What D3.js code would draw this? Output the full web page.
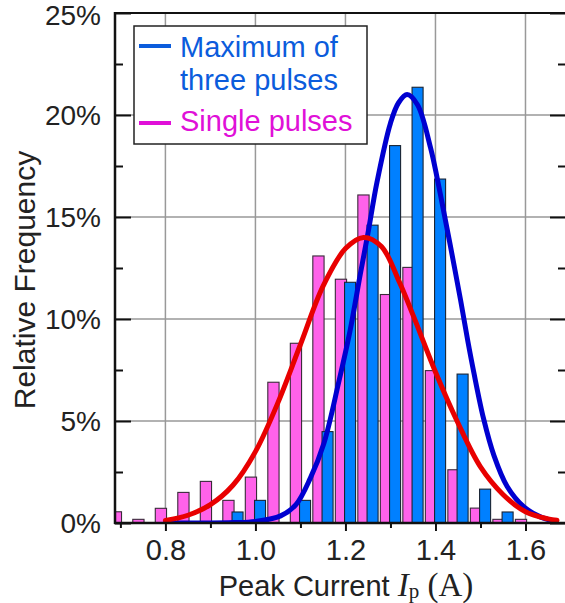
<!DOCTYPE html>
<html>
<head>
<meta charset="utf-8">
<script src="https://cdn.jsdelivr.net/npm/d3@7/dist/d3.min.js"></script>
<style>
  html, body { margin: 0; padding: 0; background: #fff; }
  svg { display: block; }
  text { font-family: "Liberation Sans", Arial, sans-serif; }
</style>
</head>
<body>
<svg id="chart" width="565" height="603"></svg>
<script>
// Histogram bin centres (peak current, A)
const binCenters = [0.70, 0.75, 0.80, 0.85, 0.90, 0.95, 1.00, 1.05, 1.10, 1.15,
                    1.20, 1.25, 1.30, 1.35, 1.40, 1.45, 1.50, 1.55, 1.60];
// Relative frequency (%) of single pulses per bin
const singleFreq = [0.55, 0.18, 0.72, 1.5, 2.04, 1.11, 2.25, 6.9, 8.81, 13.09,
                    11.95, 16.08, 11.2, 12.53, 7.47, 2.61, 0.73, 0.18, 0.18];
// Relative frequency (%) of the maximum of three pulses per bin
const maxFreq = [0, 0, 0, 0, 0, 0.54, 1.11, 0, 1.11, 4.48,
                 11.8, 14.6, 18.5, 21.36, 16.86, 7.3, 1.66, 0.54, 0];

// Fitted distribution curves, sampled as [current, %]
const singleFitX = [0.80, 0.85, 0.90, 0.95, 1.00, 1.05, 1.10, 1.15, 1.20, 1.24,
                    1.28, 1.32, 1.35, 1.40, 1.45, 1.50, 1.55, 1.60, 1.65, 1.67];
const singleFitY = [0.12, 0.38, 0.9, 1.85, 3.5, 5.9, 8.75, 11.6, 13.45, 14.0,
                    13.55, 11.8, 10.2, 7.4, 4.9, 2.75, 1.4, 0.55, 0.2, 0.13];
const maxFitX = [0.80, 0.90, 0.95, 1.00, 1.056, 1.09, 1.122, 1.152, 1.185, 1.21, 1.233, 1.25,
                 1.27, 1.30, 1.318, 1.337, 1.36, 1.389, 1.411, 1.433, 1.456, 1.472, 1.485,
                 1.507, 1.53, 1.559, 1.596, 1.633, 1.665];
const maxFitY = [0.0, 0.0, 0.02, 0.08, 0.35, 0.9, 2.2, 3.9, 6.9, 9.4, 12.2, 14.2,
                 16.7, 19.6, 20.6, 21.0, 20.5, 18.4, 16.1, 13.6, 10.9, 8.9, 7.4,
                 5.1, 3.3, 1.8, 0.8, 0.3, 0.1];

// Axis ticks
const xMajorTicks = [0.8, 1.0, 1.2, 1.4, 1.6];
const xTickLabels = ["0.8", "1.0", "1.2", "1.4", "1.6"];
const xMinorTicks = [0.7, 0.9, 1.1, 1.3, 1.5];
const yMajorTicks = [0, 5, 10, 15, 20, 25];
const yTickLabels = ["0%", "5%", "10%", "15%", "20%", "25%"];
const yMinorTicks = [2.5, 7.5, 12.5, 17.5, 22.5];
const yGridTicks = [5, 10, 15, 20];

const legendItems = ["Maximum of\nthree pulses", "Single pulses"];

const svg = d3.select("#chart");
const plotLeft = 115, plotRight = 566, plotTop = 13, plotBottom = 523;

const x = d3.scaleLinear().domain([0.688, 1.690]).range([plotLeft, plotRight]);
const y = d3.scaleLinear().domain([0, 25]).range([plotBottom, plotTop]);

svg.append("defs").append("clipPath").attr("id", "plotClip")
  .append("rect").attr("x", plotLeft).attr("y", plotTop)
  .attr("width", plotRight - plotLeft).attr("height", plotBottom - plotTop);

// Grid
const grid = svg.append("g").attr("stroke", "#999").attr("stroke-width", 1.5);
grid.selectAll("line.vx").data(xMajorTicks).join("line")
  .attr("x1", d => x(d)).attr("x2", d => x(d)).attr("y1", plotTop).attr("y2", plotBottom);
grid.selectAll("line.hy").data(yGridTicks).join("line")
  .attr("x1", plotLeft).attr("x2", plotRight).attr("y1", d => y(d)).attr("y2", d => y(d));

// Bars
const bars = svg.append("g").attr("clip-path", "url(#plotClip)");
const binData = binCenters.map((c, i) => ({ c, s: singleFreq[i], m: maxFreq[i] }));
bars.selectAll("rect.single").data(binData.filter(d => d.s > 0)).join("rect")
  .attr("class", "single")
  .attr("x", d => x(d.c - 0.0225)).attr("width", d => x(d.c + 0.0025) - x(d.c - 0.0225))
  .attr("y", d => y(d.s)).attr("height", d => y(0) - y(d.s))
  .attr("fill", "#ff62ea").attr("stroke", "#3a2a3a").attr("stroke-width", 1.1);
bars.selectAll("rect.max").data(binData.filter(d => d.m > 0)).join("rect")
  .attr("class", "max")
  .attr("x", d => x(d.c - 0.002)).attr("width", d => x(d.c + 0.0225) - x(d.c - 0.002))
  .attr("y", d => y(d.m)).attr("height", d => y(0) - y(d.m))
  .attr("fill", "#0080ff").attr("stroke", "#1a2433").attr("stroke-width", 1.1);

// Fitted curves
const line = d3.line().x(d => x(d[0])).y(d => y(d[1])).curve(d3.curveCatmullRom.alpha(0.5));
const curves = svg.append("g").attr("clip-path", "url(#plotClip)").attr("fill", "none");
curves.append("path").datum(maxFitX.map((v, i) => [v, maxFitY[i]]))
  .attr("d", line).attr("stroke", "#0000d0").attr("stroke-width", 5).attr("stroke-linecap", "round");
curves.append("path").datum(singleFitX.map((v, i) => [v, singleFitY[i]]))
  .attr("d", line).attr("stroke", "#e80000").attr("stroke-width", 5).attr("stroke-linecap", "round");

// Frame
const frame = svg.append("g").attr("stroke", "#111").attr("fill", "none");
frame.append("line").attr("x1", plotLeft).attr("x2", plotRight).attr("y1", plotTop).attr("y2", plotTop).attr("stroke-width", 2);
frame.append("line").attr("x1", plotLeft).attr("x2", plotLeft).attr("y1", plotTop - 1).attr("y2", plotBottom + 1).attr("stroke-width", 2.5);
frame.append("line").attr("x1", plotRight).attr("x2", plotRight).attr("y1", plotTop).attr("y2", plotBottom).attr("stroke-width", 2);

// Y axes (ticks point inward on both sides)
svg.append("g").attr("transform", `translate(${plotLeft},0)`)
  .call(d3.axisRight(y).tickValues(yMajorTicks).tickSize(16).tickFormat(""));
svg.append("g").attr("transform", `translate(${plotLeft},0)`)
  .call(d3.axisRight(y).tickValues(yMinorTicks).tickSize(8).tickFormat(""));
svg.append("g").attr("transform", `translate(${plotRight},0)`)
  .call(d3.axisLeft(y).tickValues(yMajorTicks).tickSize(16).tickFormat(""));
svg.append("g").attr("transform", `translate(${plotRight},0)`)
  .call(d3.axisLeft(y).tickValues(yMinorTicks).tickSize(8).tickFormat(""));
svg.selectAll(".domain").remove();
svg.selectAll(".tick line").attr("stroke", "#111").attr("stroke-width", 2);

svg.append("g").selectAll("text").data(yMajorTicks).join("text")
  .attr("x", 101).attr("y", d => y(d)).attr("dy", d => d === 25 ? "0.42em" : "0.36em")
  .attr("text-anchor", "end").attr("font-size", 28).attr("fill", "#222")
  .text((d, i) => yTickLabels[i]);

// X axis (ticks point outward)
const xAxisMajor = svg.append("g").attr("transform", `translate(0,${plotBottom})`)
  .call(d3.axisBottom(x).tickValues(xMajorTicks).tickSize(8).tickPadding(8)
        .tickFormat((d, i) => xTickLabels[i]));
const xAxisMinor = svg.append("g").attr("transform", `translate(0,${plotBottom})`)
  .call(d3.axisBottom(x).tickValues(xMinorTicks).tickSize(5).tickFormat(""));
[xAxisMajor, xAxisMinor].forEach(g => {
  g.select(".domain").remove();
  g.selectAll(".tick line").attr("stroke", "#111").attr("stroke-width", 2);
});
xAxisMajor.selectAll(".tick text").attr("font-size", 29).attr("fill", "#222")
  .attr("font-family", "Liberation Sans, Arial, sans-serif");
svg.append("line").attr("x1", plotLeft - 1).attr("x2", plotRight).attr("y1", plotBottom).attr("y2", plotBottom)
  .attr("stroke", "#111").attr("stroke-width", 2.5);

// Axis titles
svg.append("text")
  .attr("transform", `translate(35,280) rotate(-90)`)
  .attr("text-anchor", "middle").attr("font-size", 30).attr("fill", "#222")
  .text("Relative Frequency");

const serif = "Liberation Serif, Times New Roman, serif";
const xTitle = svg.append("text").attr("x", 346).attr("y", 596)
  .attr("text-anchor", "middle").attr("font-size", 29).attr("fill", "#222");
xTitle.append("tspan").text("Peak Current ");
xTitle.append("tspan").attr("font-family", serif)
  .attr("font-style", "italic").attr("font-size", 33).text("I");
xTitle.append("tspan").attr("font-family", serif)
  .attr("font-size", 21).attr("dy", 2).text("p");
xTitle.append("tspan").attr("font-family", serif)
  .attr("font-size", 33).attr("dy", -2).text(" (A)");

// Legend
const legend = svg.append("g");
legend.append("rect").attr("x", 134).attr("y", 26).attr("width", 233).attr("height", 118)
  .attr("fill", "#fff").attr("stroke", "#222").attr("stroke-width", 1.5);
const legendColors = ["#0b5cdc", "#e010d8"];
const legendLineY = [46, 123];
const legendTextY = [[57, 90], [131]];
legendItems.forEach((label, i) => {
  legend.append("line").attr("x1", 139).attr("x2", 171)
    .attr("y1", legendLineY[i]).attr("y2", legendLineY[i])
    .attr("stroke", legendColors[i]).attr("stroke-width", 4);
  label.split("\n").forEach((part, j) => {
    legend.append("text").attr("x", 180).attr("y", legendTextY[i][j])
      .attr("font-size", 29).attr("fill", legendColors[i]).text(part);
  });
});
</script>
</body>
</html>
